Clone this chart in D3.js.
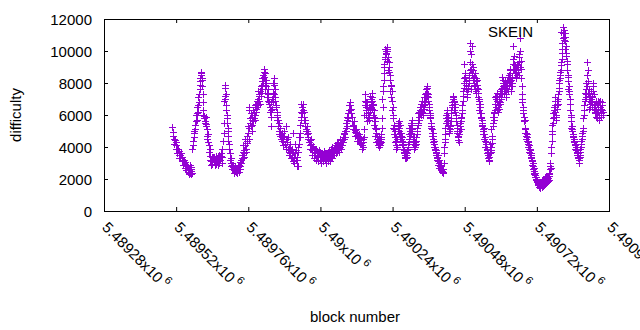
<!DOCTYPE html>
<html><head><meta charset="utf-8">
<script src="https://cdn.jsdelivr.net/npm/d3@7"></script>
<style>
body{margin:0;background:#fff}
svg{display:block}
text{font-family:"Liberation Sans",Arial,sans-serif;fill:#000}
</style>
</head><body>
<svg id="chart" width="640" height="330"></svg>
<script>
// ---- data ----
const seriesName = "SKEIN";
const xLabel = "block number";
const yLabel = "difficulty";
const xTickValues = [5489280, 5489520, 5489760, 5490000, 5490240, 5490480, 5490720, 5490960];
const yTickValues = [0, 2000, 4000, 6000, 8000, 10000, 12000];

// main run of points
const blocks = [
5489506,5489509,5489511,5489514,5489516,5489519,5489521,5489524,5489526,5489529,5489531,5489534,5489536,5489539,5489541,5489544,5489546,5489549,5489551,5489554,5489556,5489559,5489561,5489564,5489566,5489569,5489571,5489574,
5489576,5489578,5489580,5489582,5489584,5489586,5489588,5489590,5489592,5489594,5489596,5489598,5489600,5489602,5489604,5489606,5489608,5489610,5489612,5489614,5489616,5489618,5489620,5489622,5489624,5489626,5489628,5489630,5489632,5489634,
5489636,5489638,5489640,5489642,5489645,5489647,5489650,5489652,5489655,5489657,5489660,5489662,5489665,5489667,5489670,5489672,5489674,5489676,5489678,5489679,5489680,5489681,5489682,5489684,5489685,5489686,5489688,5489690,5489692,5489694,5489696,5489698,5489700,
5489702,5489704,5489706,5489708,5489710,5489712,5489714,5489716,5489718,5489720,5489722,5489725,5489727,5489730,5489732,5489735,5489737,5489740,5489742,5489745,5489747,5489750,5489752,5489755,5489757,5489760,5489762,5489764,5489767,5489769,5489772,5489774,5489777,5489779,5489782,5489784,5489787,5489789,5489792,5489794,5489797,5489799,5489802,5489804,5489806,5489808,5489810,5489812,5489814,5489816,5489818,5489820,5489822,5489825,5489827,5489830,5489832,5489835,5489837,5489840,5489842,5489844,5489846,5489848,5489850,5489852,5489855,5489857,5489860,5489862,5489865,5489867,5489870,5489872,5489875,5489877,5489880,5489882,5489885,5489887,5489890,5489892,5489895,5489897,5489900,5489902,
5489905,5489907,5489910,5489913,5489916,5489918,5489921,5489923,5489926,5489928,5489931,5489933,5489935,5489937,5489939,5489941,5489943,5489945,5489947,5489949,5489951,5489953,5489955,5489957,5489960,5489962,5489965,5489967,5489970,
5489972,5489975,5489977,5489980,5489982,5489985,5489987,5489990,5489992,5489995,5489997,5490000,5490002,5490005,5490007,5490010,5490012,5490015,5490017,5490020,5490022,5490025,5490027,5490030,5490032,5490035,5490037,5490040,5490042,5490045,5490047,5490050,5490052,5490055,5490057,
5490060,5490062,5490064,5490066,5490068,5490070,5490072,5490074,5490076,5490078,5490080,5490082,5490084,5490086,5490088,5490090,5490092,5490094,5490096,5490098,5490100,5490102,5490104,5490106,5490108,5490110,5490112,5490114,5490116,5490118,5490120,5490122,5490124,5490126,5490128,5490130,5490132,5490134,5490136,5490138,5490140,5490142,
5490145,5490147,5490149,5490151,5490153,5490155,5490157,5490159,5490161,5490163,5490165,5490167,5490169,5490171,5490173,5490175,5490177,5490179,5490181,5490183,5490185,5490187,5490189,5490191,5490193,5490195,5490197,5490199,5490201,5490203,5490205,5490207,5490209,5490211,5490213,5490215,5490217,5490219,5490221,5490223,5490225,5490227,5490229,5490231,5490233,5490235,5490237,5490239,5490241,5490243,5490245,5490247,5490249,5490251,5490253,5490255,
5490257,5490259,5490261,5490263,5490265,5490267,5490269,5490271,5490273,5490275,5490277,5490279,5490281,5490283,5490285,5490287,5490289,5490291,5490293,5490295,5490297,5490299,5490301,5490303,5490305,5490307,5490309,5490311,5490313,5490315,5490317,5490319,5490321,5490323,5490325,5490327,5490329,5490331,5490333,5490335,5490337,5490339,5490341,5490343,5490345,5490347,5490349,5490351,5490353,5490355,5490357,5490359,5490361,5490363,5490365,5490367,5490369,5490371,5490373,5490375,5490377,5490379,5490381,5490383,5490385,5490387,5490389,5490391,5490393,5490395,5490397,5490399,5490401,5490403,5490405,5490407,5490409,
5490411,5490413,5490415,5490417,5490419,5490421,5490423,5490425,5490427,5490429,5490431,5490433,5490435,5490437,5490439,5490441,5490443,5490445,5490447,5490449,5490451,5490453,5490455,5490457,5490459,5490461,5490463,5490465,5490467,5490469,5490471,5490473,5490475,5490477,5490479,5490481,5490483,5490485,5490487,5490489,5490491,5490493,5490495,5490497,5490498,5490499,5490500,5490501,5490502,
5490504,5490506,5490508,5490510,5490512,5490514,5490516,5490518,5490520,5490522,5490524,5490526,5490528,5490530,5490532,5490534,5490536,5490538,5490540,5490542,5490544,5490546,5490548,5490550,5490552,5490554,5490556,5490558,5490560,5490562,5490564,5490566,5490568,5490570,5490572,5490574,5490576,5490578,5490580,5490582,5490584,5490586,5490588,5490590,5490592,5490594,5490596,5490598,5490600,5490602,5490604,5490606,5490608,5490610,5490612,5490614,5490616,5490618,5490620,5490622,5490624,5490626,5490628,5490630,5490632,5490634,5490636,5490638,5490640,5490642,5490644,5490646,5490648,5490650,5490652,5490654,5490656,5490658,5490660,5490662,5490664,5490666,5490668,
5490669,5490671,5490673,5490675,5490677,5490679,5490681,5490683,5490685,5490687,5490689,5490691,5490693,5490695,5490697,5490699,5490701,5490703,5490705,5490707,5490709,5490711,5490713,5490715,5490717,5490719,5490721,5490723,5490725,5490727,5490729,5490731,5490733,5490735,5490737,5490739,5490741,5490743,5490745,5490747,5490749,5490751,5490753,5490755,5490757,5490759,5490761,5490763,5490765,5490767,5490769,5490771,5490773,5490775,5490777,5490779,5490781,5490783,5490785,5490787,5490789,5490791,5490793,5490795,5490797,5490799,5490801,5490803,5490805,5490807,5490808,
5490810,5490812,5490814,5490816,5490818,5490820,5490822,5490824,5490826,5490828,5490830,5490832,5490834,5490836,5490838,5490840,5490842,5490844,5490846,5490848,5490850,5490852,5490854,5490856,5490858,5490860,5490862,5490864,5490866,5490868,5490870,5490872,5490874,5490876,5490878,5490880,5490882,5490884,5490886,5490888,5490890,5490892,5490894,5490896,5490898,5490900,5490902,5490904,5490906,5490908,5490910,5490912,5490914,5490916,5490918,5490920,5490922,5490924,5490926,5490928,5490930,5490932,5490934,5490936,5490938,5490940
];

const difficulty = [
5250,4700,4950,4200,4450,3900,4100,3650,3850,3500,3750,3300,3600,3100,3400,2900,3200,2700,3050,2550,2850,2450,2700,2600,2400,2750,2500,3850,
4400,4900,4600,5400,5100,6000,5700,6500,6200,7100,6800,7600,8100,8600,8700,8300,7300,6300,5800,5950,5600,5900,5450,5100,4500,4800,4100,3700,3450,3200,
3100,3400,2950,3250,3050,3350,3150,2950,3300,3050,3350,3150,3450,3200,3600,3350,3900,4400,4900,5500,6900,7200,7900,7700,7300,6300,6000,5500,5000,4400,3900,3600,3200,
3000,2800,2900,2650,2750,2550,2700,2500,2650,2450,2600,2750,2600,2900,2800,3200,3000,3500,3300,3800,3600,4100,3900,4400,4250,4900,6500,5200,5500,5300,5700,5900,5600,6200,6000,6400,6700,6500,7000,7200,6900,7500,7400,7900,7600,8100,8500,8900,8600,8200,7800,8000,7400,7100,7300,6700,6500,6800,6300,7000,7400,8300,8000,7600,7100,6600,6200,5900,5700,5500,5200,5000,4800,4900,4600,4400,4700,4200,4500,4000,4300,3900,3700,4000,3600,3800,
3500,3300,3700,3400,3600,3200,2800,3200,3700,4200,4900,5400,5700,6200,6500,6700,6300,5900,5700,5300,5000,5100,4800,4500,4600,4300,4100,3900,4200,
3800,4000,3700,3900,3600,3800,3500,3750,3450,3600,3400,3700,3350,3550,3300,3500,3350,3600,3400,3650,3450,3700,3500,3800,3550,3900,3700,4000,3750,3950,4100,3850,4000,3900,4200,
3900,4100,4000,4200,4100,4300,4450,4300,4600,4500,4850,5000,5200,5500,5700,5900,6100,6300,6600,6830,6600,6400,5900,5600,5400,5300,5150,5060,4950,4850,4900,4750,4650,4550,4600,4450,4540,4300,4230,4100,4300,4020,
5100,7300,6900,6500,6300,6500,6100,5900,5700,5800,6200,6800,7000,7350,6900,6700,6300,5900,5600,5200,4900,4700,4500,4400,4300,4200,4400,4250,4500,4650,5200,6500,7500,8200,9000,9500,9850,10000,10270,10100,9650,9300,9000,8500,8190,7800,7500,6900,6500,5800,5400,5000,4650,4400,4100,4000,
5500,5300,5000,5200,4900,4700,4500,4650,4300,4100,3800,3600,3500,3400,3700,3400,3800,4000,4500,4800,5000,5200,5500,5100,5400,4600,4400,4200,4000,4100,4400,4650,5000,5400,5700,5900,6200,6300,6000,6500,6700,6200,6100,6400,6800,6900,7300,7600,7800,7400,7100,6900,6500,6100,5800,5500,5200,4900,4700,4500,4200,4000,3900,3700,3600,3400,3300,3100,3000,2900,2800,2700,2650,2600,2500,2450,2600,
3600,4300,4800,5500,5800,6300,5900,5500,5200,5000,5100,5600,6100,6500,6800,7000,6900,6700,6500,6200,5800,5400,5000,4700,4450,4800,5100,5300,5600,5900,6300,6900,7500,8000,8300,8600,8100,7600,7300,7500,7800,8000,8500,9300,10000,10500,9800,8900,7600,
9200,8200,8800,8000,8400,7800,8100,7500,8200,7700,7350,7000,6700,6500,6100,5800,5700,5400,5100,5000,4800,4650,4400,4200,4000,3800,3600,3500,3200,3400,3600,3700,4000,4250,4700,5300,5700,5900,6300,6700,7000,7350,6900,6600,6500,7100,6700,7300,7000,7600,7400,8000,8200,7600,7900,7700,7300,7500,7600,7900,8200,7800,8500,8800,8100,7500,7800,8400,9200,10300,9200,8600,8800,9000,8400,9000,8700,8800,9300,9800,10800,9400,8300,
7800,7000,6500,6100,5700,5200,4850,4700,4500,4400,4200,4000,3900,3700,3600,3400,3300,3200,2900,2600,2500,2400,2250,2100,2000,1900,1800,1750,1700,1600,1550,1500,1650,1600,1750,1550,1700,1850,1650,1900,1750,2000,2150,1800,2050,1950,2300,2600,2800,3600,4400,5000,5500,6100,6500,6900,6600,5700,6000,6400,6700,7300,7700,8200,8500,8800,9300,9850,10500,11100,11500,
10900,11100,10600,10300,9700,9200,8400,8100,7800,7300,6700,6000,5600,5300,5000,4700,4500,4300,4200,4100,4000,3700,3600,3400,3300,3200,3500,3700,4000,4400,4700,5000,5200,6300,6600,6900,7300,7600,7800,9300,8100,6900,7200,6700,6500,7000,7200,6800,7500,7800,6700,6200,6100,6900,6300,5800,6500,6400,6000,6800,6500,6100,5900,6300,6800,6200
];

// scattered points lying around the main run
const scatterBlocks = [
5489512,5489518,5489523,5489528,5489533,5489538,5489543,5489548,5489553,5489558,5489563,5489565,5489568,5489570,5489572,
5489577,5489581,5489585,5489589,5489593,5489597,5489599,5489601,5489603,5489605,5489607,5489609,5489611,5489615,5489619,5489623,5489627,5489631,
5489637,5489641,5489644,5489648,5489651,5489654,5489658,5489661,5489664,5489668,5489671,5489683,5489687,5489689,5489691,5489693,5489695,
5489701,5489705,5489709,5489713,5489717,5489721,5489724,5489728,5489731,5489734,
5489738,5489741,5489744,5489746,5489749,5489753,5489756,5489759,5489761,5489763,5489766,5489768,5489771,5489773,5489776,5489778,5489781,5489783,5489786,5489788,5489791,5489793,5489796,5489798,5489801,5489803,5489805,5489807,5489809,5489811,5489813,5489815,5489817,5489819,5489821,5489824,5489826,5489829,5489831,5489834,5489836,5489839,5489841,5489843,5489845,5489847,5489849,5489851,5489854,5489856,5489858,5489861,5489863,5489866,5489868,
5489871,5489876,5489879,5489884,5489887,5489889,5489893,5489894,5489898,5489899,5489901,5489904,5489906,5489908,5489910,5489912,5489915,5489919,5489921,5489925,5489926,5489929,5489932,5489934,5489937,5489940,5489943,5489946,5489948,5489950,5489954,5489956,5489959,5489961,5489964,5489965,5489968,
5489973,5489976,5489979,5489983,5489986,5489989,5489993,5489996,5489999,5490003,5490006,5490009,5490011,5490014,5490018,5490021,5490024,5490028,5490031,5490034,5490038,5490041,5490044,5490048,5490051,5490054,5490056,5490059,
5490061,5490065,5490069,5490073,5490077,5490081,5490085,5490089,5490093,5490097,5490099,5490103,5490107,5490111,5490115,5490119,5490123,5490127,5490131,5490135,5490139,5490141,
5490144,5490146,5490148,5490150,5490152,5490154,5490156,5490158,5490160,5490162,5490164,5490166,5490168,5490170,5490172,5490174,5490176,5490178,5490180,5490182,5490184,5490186,5490188,5490190,5490192,5490194,5490196,5490198,5490200,5490202,5490204,5490206,5490208,5490210,5490212,5490214,5490216,5490218,5490220,5490222,5490224,5490226,5490228,5490230,5490232,5490234,5490236,5490238,5490240,5490242,5490244,5490246,5490248,5490250,5490252,5490254,
5490256,5490258,5490260,5490262,5490264,5490266,5490268,5490270,5490272,5490274,5490276,5490278,5490280,5490282,5490284,5490286,5490288,5490290,5490292,5490294,5490296,5490298,5490300,5490302,5490304,5490306,5490308,5490310,5490312,5490314,5490316,5490318,5490320,5490322,5490324,5490326,5490328,5490330,5490332,5490334,5490336,5490338,5490340,5490342,5490344,5490346,5490348,5490350,5490352,5490354,5490356,5490358,5490360,5490362,5490364,5490366,5490368,5490370,5490372,5490374,5490376,5490378,5490380,5490382,5490384,5490386,5490388,5490390,5490392,5490394,5490396,5490398,5490400,5490402,5490404,5490406,5490408,
5490410,5490412,5490414,5490416,5490418,5490420,5490422,5490424,5490426,5490428,5490430,5490432,5490434,5490436,5490438,5490440,5490442,5490444,5490446,5490448,5490450,5490452,5490454,5490456,5490458,5490460,5490462,5490464,5490466,5490468,5490470,5490472,5490474,5490476,5490478,5490480,5490482,5490484,5490486,5490488,5490490,5490492,5490494,5490496,
5490503,5490505,5490507,5490509,5490511,5490513,5490515,5490517,5490519,5490521,5490523,5490525,5490527,5490529,5490531,5490533,5490535,5490537,5490539,5490541,5490543,5490545,5490547,5490549,5490551,5490553,5490555,5490557,5490559,5490561,5490563,5490565,5490567,5490569,5490571,5490573,5490575,5490577,5490579,5490581,5490583,5490585,5490587,5490589,5490591,5490593,5490595,5490597,5490599,5490601,5490603,5490605,5490607,5490609,5490611,5490613,5490615,5490617,5490619,5490621,5490623,5490625,5490627,5490629,5490631,5490633,5490635,5490637,5490639,5490641,5490643,5490645,5490647,5490649,5490651,5490653,5490655,5490657,5490659,5490661,5490663,5490665,5490667,
5490670,5490672,5490674,5490676,5490678,5490680,5490682,5490684,5490686,5490688,5490690,5490692,5490694,5490696,5490698,5490700,5490702,5490704,5490706,5490708,5490710,5490712,5490714,5490716,5490718,5490720,5490722,5490724,5490726,5490728,5490730,5490732,5490734,5490736,5490738,5490740,5490742,5490744,5490746,5490748,5490750,5490752,5490754,5490756,5490758,5490760,5490762,5490764,5490766,
5490768,5490770,5490772,5490774,5490776,5490778,5490780,5490782,5490784,5490786,5490788,5490790,5490792,5490794,5490796,5490798,5490800,5490802,5490804,5490806,
5490809,5490811,5490813,5490815,5490817,5490819,5490821,5490823,5490825,5490827,5490829,5490831,5490833,5490835,5490837,5490839,5490841,5490843,5490845,5490847,5490849,5490851,5490853,5490855,5490857,5490859,5490861,5490863,5490865,5490867,5490869,5490871,5490873,5490875,5490877,5490879,5490881,5490883,5490885,5490887,5490889,5490891,5490893,5490895,5490897,5490899,5490901,5490903,5490905,5490907,5490909,5490911,5490913,5490915,5490917,5490919,5490921,5490923,5490925,5490927,5490929,5490931,5490933,5490935,5490937,5490939
];

const scatterDifficulty = [
4500,4300,3850,3300,3500,3350,3150,2950,2800,2650,2300,2900,2300,2650,2350,
4100,5000,5600,6100,6600,7300,7900,8300,8500,8200,7800,6800,6000,5500,5300,4700,4300,3900,
2850,3350,3250,2900,3450,3100,2850,3500,3000,3450,3000,7000,6600,5800,5200,4700,4200,
3300,2600,2900,2400,2800,2350,2500,2450,3050,2600,
3300,3700,4100,3400,4500,3700,4700,5300,6300,4500,5800,6100,5000,5400,6300,5800,6600,5700,6200,6900,6600,7500,7300,6700,7800,7200,8300,8100,8300,8700,8400,7900,7600,8200,7100,6900,7600,6800,6200,5300,5900,6400,6900,8000,7900,7300,6900,6500,6000,5700,5300,5000,4800,4700,4500,
4400,4100,5000,3900,5300,4500,4650,3500,4200,3800,3300,3400,3900,3100,4850,3000,4200,3800,3400,4000,2800,4600,4650,5900,6700,6100,6300,6200,5700,5500,5300,5000,4850,4300,3900,4450,4500,
3500,4050,3300,3900,3200,3400,3100,3800,3200,3000,3400,3150,3750,3200,3000,3300,3100,3350,3150,3400,3300,3600,3500,3800,3600,4250,3700,4300,
3700,4500,3900,4100,4800,4600,5000,5300,5800,6300,6600,6100,5100,5600,4700,5100,4400,4800,4200,4500,3900,4500,
4600,6000,6600,6800,6000,6800,5600,6300,6000,6500,6500,7200,6600,7100,6400,6000,6600,5400,5800,4700,5100,4300,4700,4100,4500,4000,4650,4100,4300,4800,5800,7000,7800,8600,9200,9600,10100,9800,10000,9400,9600,8800,8700,8200,7500,7900,7100,6300,6000,5200,4800,5100,4300,4600,3900,4500,
4500,5000,5600,4800,5400,4600,4900,4200,4400,3900,4300,3700,3300,3700,3500,3300,3600,4200,3900,4300,5200,4700,5400,4900,5700,5000,4200,4600,3900,4300,4000,4200,4800,5200,5500,6100,5700,6500,6100,6700,6300,6900,6400,6000,6600,7100,6700,7100,7400,7700,7200,7300,6700,6300,5900,6000,5300,5100,4700,4900,4300,4400,3800,4000,3500,3800,3200,3500,2900,3200,2700,3000,2550,2850,2450,2650,2350,
3000,4000,4500,5200,6000,6100,5600,5700,5300,4900,5300,5400,5800,6300,6600,7100,7200,6800,6300,6700,6000,5600,5200,4900,4600,4300,5000,5500,5100,5800,6100,6600,7200,7700,9200,8300,8400,7900,7100,7300,7700,7600,8200,8800,
10300,8600,9000,8300,7900,8600,7600,8300,7400,7900,7100,7600,6900,6300,6700,5900,6100,5500,5300,4800,5200,4500,4600,4000,4300,3600,3900,3300,3700,3100,3800,4200,3800,5100,4500,5900,5500,6200,6100,7100,6500,7200,6300,6900,6200,6900,6400,7500,6800,7300,8400,7700,7800,8000,7300,8100,7500,7100,7900,8100,8400,7500,8200,8600,8900,7800,8200,8000,8800,9500,9700,8900,9100,8300,8700,9200,8500,9100,8500,9600,9000,10000,8900,
7300,6800,6300,5900,5600,5700,5100,4900,4800,4600,4400,4300,4100,3900,3800,3600,3500,3100,3000,2800,2700,2300,2350,1950,2100,1850,1950,1650,1800,1500,1700,1450,1800,1500,1900,1650,2000,1750,2100,1800,2200,1900,2000,2200,1850,2400,2200,3000,2700,
4000,4800,5400,5800,6300,5900,7100,6200,5900,6600,6900,7000,7500,8000,8300,8700,9100,9500,10100,10800,
11300,10700,10900,10100,9900,9400,8800,8500,7600,7500,7000,6300,5900,5200,5100,4800,4600,4400,4300,3900,4200,3800,3900,3500,3600,3000,3300,3400,3900,4200,4500,4900,5200,5800,6000,7000,7400,7100,8000,8500,8800,7400,7600,6400,7100,6800,7500,6500,7100,8000,7300,6400,6600,6500,5900,6700,6100,6900,6200,5700,6300,6900,6400,6000,6600,6000
];

// ---- layout ----
const plot = {left: 104, right: 609, top: 19, bottom: 211};
const purple = "#9400d3";
const svg = d3.select("#chart");

const x = d3.scaleLinear().domain(d3.extent(xTickValues)).range([plot.left, plot.right]);
const y = d3.scaleLinear().domain(d3.extent(yTickValues)).range([plot.bottom, plot.top]);

function pairUp(bs, ds) {
  const n = Math.min(bs.length, ds.length);
  return d3.range(n).map(i => ({b: bs[i], d: ds[i]}));
}
const points = pairUp(blocks, difficulty).concat(pairUp(scatterBlocks, scatterDifficulty));

// ---- axes (ticks pointing inward, mirrored) ----
const axisFont = "15px";
const gLeft = svg.append("g").attr("transform", `translate(${plot.left},0)`)
  .call(d3.axisLeft(y).tickValues(yTickValues).tickSize(-4).tickPadding(12).tickFormat(d3.format("d")));
const gRight = svg.append("g").attr("transform", `translate(${plot.right},0)`)
  .call(d3.axisRight(y).tickValues(yTickValues).tickSize(-4).tickFormat(""));
const gBottom = svg.append("g").attr("transform", `translate(0,${plot.bottom})`)
  .call(d3.axisBottom(x).tickValues(xTickValues).tickSize(-4).tickFormat(""));
const gTop = svg.append("g").attr("transform", `translate(0,${plot.top})`)
  .call(d3.axisTop(x).tickValues(xTickValues).tickSize(-4).tickFormat(""));

[gLeft, gRight, gBottom, gTop].forEach(g => {
  g.select(".domain").remove();
  g.selectAll(".tick line").attr("stroke", "#000").attr("stroke-width", 1);
  g.selectAll("text").attr("font-size", axisFont).attr("font-family", '"Liberation Sans",Arial,sans-serif').attr("fill", "#000");
});
gLeft.selectAll(".tick text").attr("dy", "0.36em");

// rotated x tick labels "5.48928x10^6"
const xl = gBottom.selectAll(".tick").append("text")
  .attr("transform", "translate(1,13) rotate(45)")
  .attr("text-anchor", "start")
  .attr("dominant-baseline", "central")
  .attr("font-size", axisFont)
  .attr("fill", "#000");
xl.append("tspan").text(d => String(d / 1e6) + "x10");
xl.append("tspan").attr("font-size", "11px").attr("dx", "3").attr("baseline-shift", "5").text("6");

// plot border
svg.append("rect")
  .attr("x", plot.left + 0.5).attr("y", plot.top + 0.5)
  .attr("width", plot.right - plot.left).attr("height", plot.bottom - plot.top)
  .attr("fill", "none").attr("stroke", "#000").attr("stroke-width", 1);

// ---- points ----
const plus = "M-3.5,0H3.5M0,-3.5V3.5";
svg.append("g").selectAll("path").data(points).join("path")
  .attr("d", plus)
  .attr("transform", p => `translate(${Math.round(x(p.b)) + 0.5},${Math.round(y(p.d)) + 0.5})`)
  .attr("fill", "none").attr("stroke", purple).attr("stroke-width", 1);

// ---- key ----
svg.append("text").attr("x", 533).attr("y", 37).attr("text-anchor", "end")
  .attr("font-size", axisFont).text(seriesName);
svg.append("path").attr("d", plus).attr("transform", "translate(561.5,32.5)")
  .attr("fill", "none").attr("stroke", purple).attr("stroke-width", 1);

// ---- axis titles ----
svg.append("text").attr("transform", "translate(21,115) rotate(-90)")
  .attr("text-anchor", "middle").attr("font-size", axisFont).text(yLabel);
svg.append("text").attr("x", 355).attr("y", 322)
  .attr("text-anchor", "middle").attr("font-size", axisFont).text(xLabel);
</script>
</body></html>
